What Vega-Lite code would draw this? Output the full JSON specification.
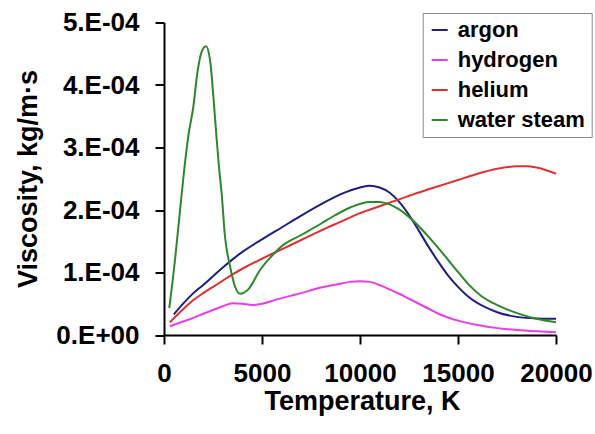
{
  "$schema": "https://vega.github.io/schema/vega-lite/v6.json",
  "width": 392,
  "height": 312.5,
  "autosize": {"type": "none"},
  "padding": {"left": 164, "top": 22.5, "right": 39, "bottom": 99},
  "background": "white",
  "config": {
    "view": {"stroke": null},
    "font": "Liberation Sans",
    "axis": {"grid": false, "domainColor": "black", "tickColor": "black", "domainWidth": 2, "tickWidth": 2, "labelColor": "black", "titleColor": "black", "labelFont": "Liberation Sans", "titleFont": "Liberation Sans", "labelFontWeight": "bold", "titleFontWeight": "bold", "labelFontSize": 26, "titleFontSize": 27, "labelOverlap": false, "labelFlush": false}
  },
  "data": {
    "values": [
      {"series": "argon", "T": 500, "v": 3.3e-5},
      {"series": "argon", "T": 1000, "v": 5.1e-5},
      {"series": "argon", "T": 1500, "v": 6.7e-5},
      {"series": "argon", "T": 2000, "v": 8.0e-5},
      {"series": "argon", "T": 2500, "v": 9.4e-5},
      {"series": "argon", "T": 3000, "v": 1.08e-4},
      {"series": "argon", "T": 3500, "v": 1.21e-4},
      {"series": "argon", "T": 4000, "v": 1.33e-4},
      {"series": "argon", "T": 5000, "v": 1.53e-4},
      {"series": "argon", "T": 6000, "v": 1.72e-4},
      {"series": "argon", "T": 7000, "v": 1.91e-4},
      {"series": "argon", "T": 8000, "v": 2.09e-4},
      {"series": "argon", "T": 9000, "v": 2.25e-4},
      {"series": "argon", "T": 10000, "v": 2.36e-4},
      {"series": "argon", "T": 10500, "v": 2.39e-4},
      {"series": "argon", "T": 11000, "v": 2.36e-4},
      {"series": "argon", "T": 11500, "v": 2.28e-4},
      {"series": "argon", "T": 12000, "v": 2.13e-4},
      {"series": "argon", "T": 12500, "v": 1.92e-4},
      {"series": "argon", "T": 13000, "v": 1.67e-4},
      {"series": "argon", "T": 13500, "v": 1.41e-4},
      {"series": "argon", "T": 14000, "v": 1.17e-4},
      {"series": "argon", "T": 14500, "v": 0.95e-4},
      {"series": "argon", "T": 15000, "v": 0.77e-4},
      {"series": "argon", "T": 15500, "v": 0.62e-4},
      {"series": "argon", "T": 16000, "v": 0.51e-4},
      {"series": "argon", "T": 16500, "v": 0.43e-4},
      {"series": "argon", "T": 17000, "v": 0.365e-4},
      {"series": "argon", "T": 18000, "v": 0.29e-4},
      {"series": "argon", "T": 19000, "v": 0.265e-4},
      {"series": "argon", "T": 20000, "v": 0.26e-4},

      {"series": "hydrogen", "T": 300, "v": 1.4e-5},
      {"series": "hydrogen", "T": 1000, "v": 2.2e-5},
      {"series": "hydrogen", "T": 1500, "v": 2.75e-5},
      {"series": "hydrogen", "T": 2000, "v": 3.4e-5},
      {"series": "hydrogen", "T": 2500, "v": 4.0e-5},
      {"series": "hydrogen", "T": 3000, "v": 4.6e-5},
      {"series": "hydrogen", "T": 3500, "v": 5.1e-5},
      {"series": "hydrogen", "T": 4000, "v": 5.0e-5},
      {"series": "hydrogen", "T": 4500, "v": 4.8e-5},
      {"series": "hydrogen", "T": 5000, "v": 5.0e-5},
      {"series": "hydrogen", "T": 5750, "v": 5.7e-5},
      {"series": "hydrogen", "T": 6500, "v": 6.3e-5},
      {"series": "hydrogen", "T": 7000, "v": 6.7e-5},
      {"series": "hydrogen", "T": 8000, "v": 7.6e-5},
      {"series": "hydrogen", "T": 9000, "v": 8.2e-5},
      {"series": "hydrogen", "T": 9500, "v": 8.5e-5},
      {"series": "hydrogen", "T": 10000, "v": 8.6e-5},
      {"series": "hydrogen", "T": 10500, "v": 8.5e-5},
      {"series": "hydrogen", "T": 11000, "v": 8.0e-5},
      {"series": "hydrogen", "T": 11500, "v": 7.3e-5},
      {"series": "hydrogen", "T": 12000, "v": 6.6e-5},
      {"series": "hydrogen", "T": 12500, "v": 5.8e-5},
      {"series": "hydrogen", "T": 13000, "v": 5.0e-5},
      {"series": "hydrogen", "T": 13500, "v": 4.2e-5},
      {"series": "hydrogen", "T": 14000, "v": 3.4e-5},
      {"series": "hydrogen", "T": 14500, "v": 2.8e-5},
      {"series": "hydrogen", "T": 15000, "v": 2.3e-5},
      {"series": "hydrogen", "T": 16000, "v": 1.6e-5},
      {"series": "hydrogen", "T": 17000, "v": 1.1e-5},
      {"series": "hydrogen", "T": 18000, "v": 0.8e-5},
      {"series": "hydrogen", "T": 19000, "v": 0.6e-5},
      {"series": "hydrogen", "T": 20000, "v": 0.45e-5},

      {"series": "helium", "T": 300, "v": 2.05e-5},
      {"series": "helium", "T": 1000, "v": 4.2e-5},
      {"series": "helium", "T": 1500, "v": 5.6e-5},
      {"series": "helium", "T": 2000, "v": 6.7e-5},
      {"series": "helium", "T": 2500, "v": 7.7e-5},
      {"series": "helium", "T": 3000, "v": 8.7e-5},
      {"series": "helium", "T": 3500, "v": 9.7e-5},
      {"series": "helium", "T": 4000, "v": 1.06e-4},
      {"series": "helium", "T": 5000, "v": 1.22e-4},
      {"series": "helium", "T": 6000, "v": 1.37e-4},
      {"series": "helium", "T": 7000, "v": 1.52e-4},
      {"series": "helium", "T": 8000, "v": 1.67e-4},
      {"series": "helium", "T": 9000, "v": 1.81e-4},
      {"series": "helium", "T": 10000, "v": 1.95e-4},
      {"series": "helium", "T": 11000, "v": 2.06e-4},
      {"series": "helium", "T": 12000, "v": 2.17e-4},
      {"series": "helium", "T": 13000, "v": 2.28e-4},
      {"series": "helium", "T": 14000, "v": 2.38e-4},
      {"series": "helium", "T": 15000, "v": 2.48e-4},
      {"series": "helium", "T": 16000, "v": 2.58e-4},
      {"series": "helium", "T": 17000, "v": 2.66e-4},
      {"series": "helium", "T": 18000, "v": 2.70e-4},
      {"series": "helium", "T": 18500, "v": 2.70e-4},
      {"series": "helium", "T": 19000, "v": 2.68e-4},
      {"series": "helium", "T": 20000, "v": 2.58e-4},

      {"series": "water steam", "T": 270, "v": 4.3e-5},
      {"series": "water steam", "T": 560, "v": 1.2e-4},
      {"series": "water steam", "T": 820, "v": 2.0e-4},
      {"series": "water steam", "T": 1070, "v": 2.75e-4},
      {"series": "water steam", "T": 1240, "v": 3.18e-4},
      {"series": "water steam", "T": 1500, "v": 3.66e-4},
      {"series": "water steam", "T": 1700, "v": 4.19e-4},
      {"series": "water steam", "T": 1920, "v": 4.53e-4},
      {"series": "water steam", "T": 2140, "v": 4.62e-4},
      {"series": "water steam", "T": 2350, "v": 4.4e-4},
      {"series": "water steam", "T": 2520, "v": 3.81e-4},
      {"series": "water steam", "T": 2690, "v": 3.12e-4},
      {"series": "water steam", "T": 2820, "v": 2.64e-4},
      {"series": "water steam", "T": 2940, "v": 2.27e-4},
      {"series": "water steam", "T": 3110, "v": 1.58e-4},
      {"series": "water steam", "T": 3370, "v": 1.10e-4},
      {"series": "water steam", "T": 3620, "v": 0.78e-4},
      {"series": "water steam", "T": 3880, "v": 0.66e-4},
      {"series": "water steam", "T": 4300, "v": 0.73e-4},
      {"series": "water steam", "T": 4900, "v": 1.04e-4},
      {"series": "water steam", "T": 5580, "v": 1.29e-4},
      {"series": "water steam", "T": 6000, "v": 1.42e-4},
      {"series": "water steam", "T": 7000, "v": 1.60e-4},
      {"series": "water steam", "T": 8000, "v": 1.78e-4},
      {"series": "water steam", "T": 8640, "v": 1.90e-4},
      {"series": "water steam", "T": 9500, "v": 2.04e-4},
      {"series": "water steam", "T": 10500, "v": 2.13e-4},
      {"series": "water steam", "T": 11000, "v": 2.13e-4},
      {"series": "water steam", "T": 11500, "v": 2.09e-4},
      {"series": "water steam", "T": 12000, "v": 2.01e-4},
      {"series": "water steam", "T": 12500, "v": 1.89e-4},
      {"series": "water steam", "T": 13000, "v": 1.74e-4},
      {"series": "water steam", "T": 13500, "v": 1.57e-4},
      {"series": "water steam", "T": 14000, "v": 1.39e-4},
      {"series": "water steam", "T": 14500, "v": 1.20e-4},
      {"series": "water steam", "T": 15000, "v": 1.01e-4},
      {"series": "water steam", "T": 15600, "v": 0.79e-4},
      {"series": "water steam", "T": 16200, "v": 0.62e-4},
      {"series": "water steam", "T": 16800, "v": 0.51e-4},
      {"series": "water steam", "T": 17500, "v": 0.41e-4},
      {"series": "water steam", "T": 18200, "v": 0.33e-4},
      {"series": "water steam", "T": 19000, "v": 0.26e-4},
      {"series": "water steam", "T": 20000, "v": 0.205e-4}
    ]
  },
  "mark": {"type": "line", "strokeWidth": 2, "interpolate": "monotone"},
  "encoding": {
    "x": {
      "field": "T", "type": "quantitative",
      "scale": {"domain": [0, 20000], "nice": false},
      "axis": {"title": "Temperature, K", "values": [0, 5000, 10000, 15000, 20000], "format": "d", "tickSize": 9, "labelPadding": 16, "titleX": 198, "titleY": 74, "titleBaseline": "alphabetic", "titleAnchor": "middle", "titleAlign": "center"}
    },
    "y": {
      "field": "v", "type": "quantitative",
      "scale": {"domain": [0, 0.0005], "nice": false},
      "axis": {"title": "Viscosity, kg/m\u00b7s", "values": [0, 0.0001, 0.0002, 0.0003, 0.0004, 0.0005], "labelExpr": "datum.value == 0 ? '0.E+00' : format(datum.value * 10000, '.0f') + '.E-04'", "tickSize": 9, "labelPadding": 16, "titleX": -127.5, "titleY": 156, "titleAngle": 270, "titleBaseline": "alphabetic", "titleAlign": "center"}
    },
    "color": {
      "field": "series", "type": "nominal",
      "scale": {"domain": ["argon", "hydrogen", "helium", "water steam"], "range": ["#1f1f7f", "#e83ee8", "#e03030", "#2a8a2a"]},
      "legend": {"title": null, "orient": "none", "legendX": 258.7, "legendY": -9.5, "strokeColor": "#888888", "fillColor": "white", "padding": 6, "symbolType": "stroke", "symbolSize": 256, "symbolStrokeWidth": 2, "labelFontSize": 22, "labelFontWeight": "bold", "labelFont": "Liberation Sans", "labelColor": "black", "rowPadding": 8, "labelOffset": 7}
    }
  }
}
